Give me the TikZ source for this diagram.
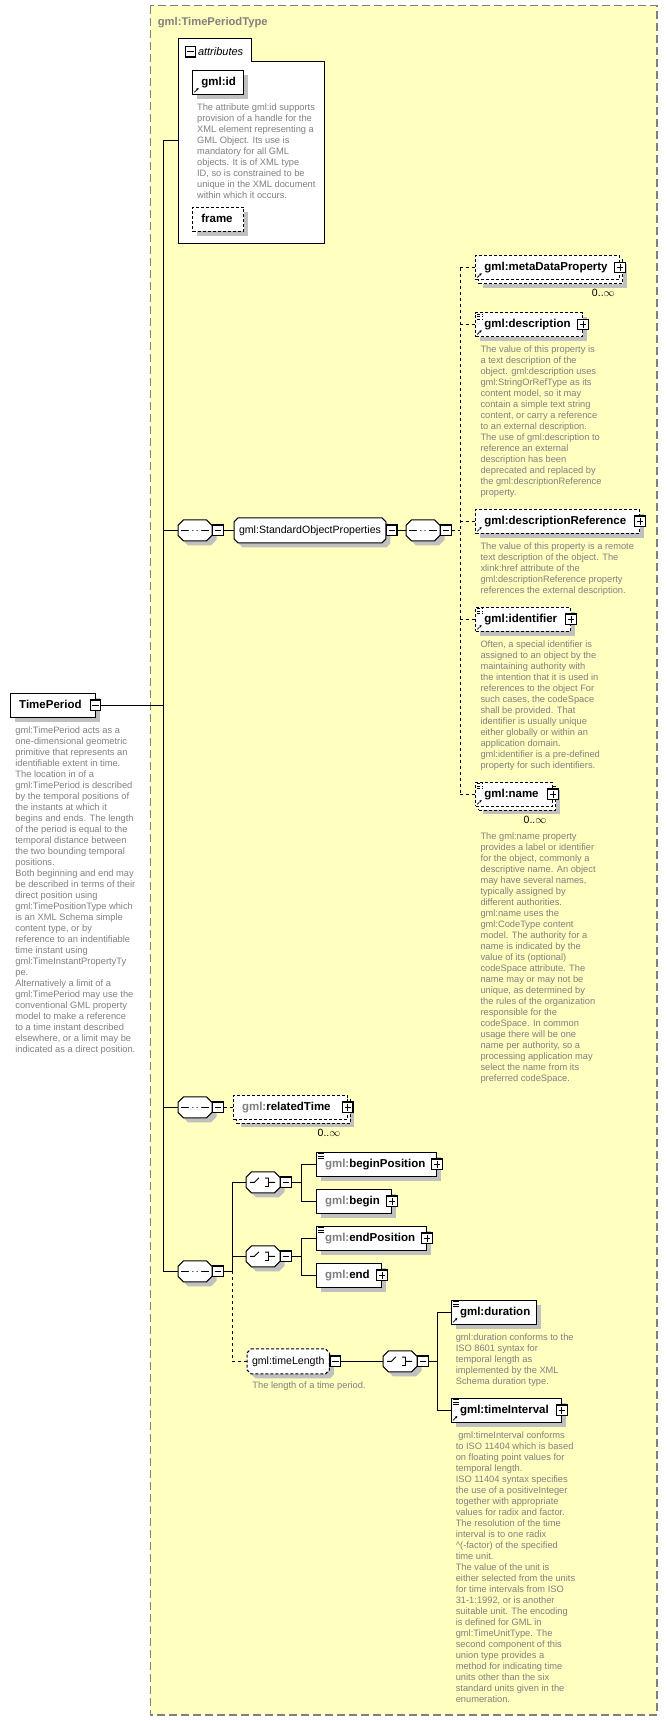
\documentclass[tikz,border=0pt]{standalone}
\usepackage{fontspec}
\setmainfont{Liberation Sans}
\usetikzlibrary{positioning,shadows,arrows.meta}

\hyphenpenalty=10000

\definecolor{typefill}{RGB}{255,255,192}
\definecolor{docgray}{RGB}{128,128,128}
\definecolor{shadegray}{RGB}{192,192,192}

% box with cut corners, for compositors and groups
\makeatletter
\def\octcut{5pt}
\pgfdeclareshape{octbox}{%
  \inheritsavedanchors[from=rectangle]%
  \inheritanchorborder[from=rectangle]%
  \inheritanchor[from=rectangle]{center}%
  \inheritanchor[from=rectangle]{north}%
  \inheritanchor[from=rectangle]{south}%
  \inheritanchor[from=rectangle]{east}%
  \inheritanchor[from=rectangle]{west}%
  \inheritanchor[from=rectangle]{north east}%
  \inheritanchor[from=rectangle]{north west}%
  \inheritanchor[from=rectangle]{south east}%
  \inheritanchor[from=rectangle]{south west}%
  \inheritanchor[from=rectangle]{base}%
  \inheritanchor[from=rectangle]{mid}%
  \backgroundpath{%
    \southwest\edef\oxa{\the\pgf@x}\edef\oya{\the\pgf@y}%
    \northeast\edef\oxb{\the\pgf@x}\edef\oyb{\the\pgf@y}%
    \pgfpathmoveto{\pgfpoint{\oxa+\octcut}{\oyb}}%
    \pgfpathlineto{\pgfpoint{\oxb-\octcut}{\oyb}}%
    \pgfpathlineto{\pgfpoint{\oxb}{\oyb-\octcut}}%
    \pgfpathlineto{\pgfpoint{\oxb}{\oya+\octcut}}%
    \pgfpathlineto{\pgfpoint{\oxb-\octcut}{\oya}}%
    \pgfpathlineto{\pgfpoint{\oxa+\octcut}{\oya}}%
    \pgfpathlineto{\pgfpoint{\oxa}{\oya+\octcut}}%
    \pgfpathlineto{\pgfpoint{\oxa}{\oyb-\octcut}}%
    \pgfpathclose}%
}
\makeatother

% small marks drawn inside the element boxes
\newcommand{\lineicon}{%
  \draw[line width=.8pt] ([shift={(1.5pt,-1.5pt)}]path picture bounding box.north west) -- ++(5.5pt,0pt)
    ([shift={(1.5pt,-4pt)}]path picture bounding box.north west) -- ++(5.5pt,0pt)
    ([shift={(1.5pt,-6.5pt)}]path picture bounding box.north west) -- ++(5.5pt,0pt);}
\newcommand{\reficon}{%
  \draw[line width=.8pt,-{Latex[length=2.6pt,width=2.6pt]}] ([shift={(1.5pt,2pt)}]path picture bounding box.south west) -- ++(4.5pt,4.5pt);}

\tikzset{
  cut size/.code={\def\octcut{#1}},
  typebox/.style={draw=docgray, fill=typefill, line width=1.3pt, dash pattern=on 8pt off 4pt},
  opt/.style={dash pattern=on 3pt off 2pt},
  optline/.style={dash pattern=on 3pt off 3pt},
  shade/.style={general shadow={shadow xshift=4.5pt, shadow yshift=-4.5pt, draw=none, fill=shadegray}},
  stack/.style={general shadow={shadow xshift=7pt, shadow yshift=-8pt, draw=none, fill=shadegray},
    general shadow={shadow xshift=3pt, shadow yshift=-4pt, draw=black, fill=white, opt}},
  elem/.style={rectangle, draw, fill=white, anchor=west, minimum height=24pt, inner xsep=8.5pt, inner ysep=0pt,
    text width=#1pt, align=left, font=\fontsize{11.5}{13}\selectfont\bfseries, text height=8.5pt, text depth=2.5pt},
  lines/.style={path picture={\lineicon}},
  ref/.style={path picture={\reficon}},
  lineref/.style={path picture={\lineicon\reficon}},
  grp/.style={octbox, cut size=4pt, draw, fill=white, anchor=west, minimum height=24pt,
    inner xsep=4.5pt, inner ysep=0pt, font=\fontsize{10.6}{12}\selectfont, text height=8pt, text depth=2.5pt},
  oct/.style={octbox, cut size=5.5pt, draw, fill=white, anchor=west,
    minimum width=33pt, minimum height=20pt, inner sep=0pt, shade},
  seq/.style={oct, path picture={
    \draw ([xshift=3pt]path picture bounding box.west) -- ([xshift=-3pt]path picture bounding box.east);
    \fill[shift={(path picture bounding box.center)}] (-6.1pt,-1.8pt) rectangle (-2.7pt,1.8pt)
      (-1.7pt,-1.8pt) rectangle (1.7pt,1.8pt) (2.7pt,-1.8pt) rectangle (6.1pt,1.8pt);}},
  choice/.style={oct, path picture={
    \draw[shift={(path picture bounding box.center)}, line width=.9pt] (-13pt,0pt) -- (-8.5pt,0pt) -- (-4pt,4.5pt)
      (2pt,4.2pt) -- (5.5pt,4.2pt) -- (5.5pt,-4.2pt) -- (2pt,-4.2pt) (5.5pt,0pt) -- (12pt,0pt);
    \fill[shift={(path picture bounding box.center)}] (-0.9pt,2.8pt) rectangle (1.9pt,5.6pt)
      (-0.9pt,-1.4pt) rectangle (1.9pt,1.4pt) (-0.9pt,-5.6pt) rectangle (1.9pt,-2.8pt);}},
  pm/.style={rectangle, draw, line width=1.2pt, fill=white, minimum size=10.5pt, inner sep=0pt},
  plus/.style={pm, path picture={\draw[line width=1pt] ([xshift=2pt]path picture bounding box.west) -- ([xshift=-2pt]path picture bounding box.east)
    ([yshift=-2pt]path picture bounding box.north) -- ([yshift=2pt]path picture bounding box.south);}},
  minus/.style={pm, path picture={\draw[line width=1pt] ([xshift=2pt]path picture bounding box.west) -- ([xshift=-2pt]path picture bounding box.east);}},
  doc/.style={anchor=north west, inner sep=0pt, align=left, text=docgray, font=\fontsize{9.3}{11}\selectfont},
  mult/.style={inner sep=0pt, font=\fontsize{10.5}{12}\selectfont},
  title/.style={anchor=north west, inner sep=0pt, text=docgray, font=\fontsize{11.2}{13}\selectfont\bfseries}
}

\begin{document}
\begin{tikzpicture}[x=1pt, y=-1pt, line width=1pt]
\def\xsq{178}
\def\xch{246}
\def\xel{475.3}
\def\xpos{316}

\useasboundingbox (0,0) rectangle (668,1721);
\draw[typebox] (150.2,5.7) rectangle (657,1715);
\node[title] (ttl) at (157.4,16.5) {gml:TimePeriodType};

% attributes
\node[anchor=north west, minimum width=145.1pt, minimum height=204pt, inner sep=0pt] (attr) at (178.3,38.3) {};
\draw[fill=white] (attr.south west) |- (attr.north west) -| ([shift={(72.7,23)}]attr.north west) -| (attr.south east) -- cycle;
\node[minus] (attrm) at (190.4,51.7) {};
\node[anchor=base west, inner sep=0pt, font=\fontsize{11}{13}\selectfont\itshape] (attrl) at (197.5,55) {attributes};
\node[elem=34.1, shade, ref] (gid) at (192.3,82.3) {gml:id};
\node[doc] (giddoc) at (196.6,103.3) {The attribute gml:id supports\\provision of a handle for the\\XML element representing a\\GML Object. Its use is\\mandatory for all GML\\objects. It is of XML type\\ID, so is constrained to be\\unique in the XML document\\within which it occurs.};
\node[elem=34.1, opt, shade] (frame) at (192.3,219.3) {frame};

% the element itself
\node[elem=67.3, shade] (tp) at (10.2,705.3) {TimePeriod};
\node[minus] (tpm) at (tp.east) {};
\node[doc] (tpdoc) at (14.9,726.7) {gml:TimePeriod acts as a\\one-dimensional geometric\\primitive that represents an\\identifiable extent in time.\\The location in of a\\gml:TimePeriod is described\\by the temporal positions of\\the instants at which it\\begins and ends. The length\\of the period is equal to the\\temporal distance between\\the two bounding temporal\\positions.\\Both beginning and end may\\be described in terms of their\\direct position using\\gml:TimePositionType which\\is an XML Schema simple\\content type, or by\\reference to an indentifiable\\time instant using\\gml:TimeInstantPropertyTy\\pe.\\Alternatively a limit of a\\gml:TimePeriod may use the\\conventional GML property\\model to make a reference\\to a time instant described\\elsewhere, or a limit may be\\indicated as a direct position.};

% standard object properties
\node[seq] (seq1) at (\xsq,530.3) {};
\node[minus, anchor=west] (seq1m) at (seq1.east) {};
\node[grp, shade] (sop) at (234,530.3) {gml:StandardObjectProperties};
\node[minus, anchor=west] (sopm) at (sop.east) {};
\node[seq] (seq2) at (406,530.3) {};
\node[minus, anchor=west] (seq2m) at (seq2.east) {};

\node[elem=126.7, opt, stack, ref] (meta) at (\xel,267.5) {gml:metaDataProperty};
\node[plus] (metap) at (meta.east) {};
\node[mult] (metan) at (603.3,292.7) {0..$\infty$};

\node[elem=89.7, opt, shade, lineref] (desc) at (\xel,324.5) {gml:description};
\node[plus] (descp) at (desc.east) {};
\node[doc] (descdoc) at (480,345.7) {The value of this property is\\a text description of the\\object. gml:description uses\\gml:StringOrRefType as its\\content model, so it may\\contain a simple text string\\content, or carry a reference\\to an external description.\\The use of gml:description to\\reference an external\\description has been\\deprecated and replaced by\\the gml:descriptionReference\\property.};

\node[elem=146.7, opt, shade, ref] (dref) at (\xel,521.3) {gml:descriptionReference};
\node[plus] (drefp) at (dref.east) {};
\node[doc] (drefdoc) at (480,542.3) {The value of this property is a remote\\text description of the object. The\\xlink:href attribute of the\\gml:descriptionReference property\\references the external description.};

\node[elem=77.7, opt, shade, lineref] (ident) at (\xel,619.3) {gml:identifier};
\node[plus] (identp) at (ident.east) {};
\node[doc] (identdoc) at (480,640) {Often, a special identifier is\\assigned to an object by the\\maintaining authority with\\the intention that it is used in\\references to the object For\\such cases, the codeSpace\\shall be provided. That\\identifier is usually unique\\either globally or within an\\application domain.\\gml:identifier is a pre-defined\\property for such identifiers.};

\node[elem=59.7, opt, stack, lineref] (name) at (\xel,794.3) {gml:name};
\node[plus] (namep) at (name.east) {};
\node[mult] (namen) at (535,820) {0..$\infty$};
\node[doc] (namedoc) at (480,832.3) {The gml:name property\\provides a label or identifier\\for the object, commonly a\\descriptive name. An object\\may have several names,\\typically assigned by\\different authorities.\\gml:name uses the\\gml:CodeType content\\model.  The authority for a\\name is indicated by the\\value of its (optional)\\codeSpace attribute.  The\\name may or may not be\\unique, as determined by\\the rules of the organization\\responsible for the\\codeSpace.  In common\\usage there will be one\\name per authority, so a\\processing application may\\select the name from its\\preferred codeSpace.};

% related time
\node[seq] (seq3) at (\xsq,1107.3) {};
\node[minus, anchor=west] (seq3m) at (seq3.east) {};
\node[elem=96.8, opt, stack] (rel) at (233,1107.3) {\textcolor{docgray}{gml:}relatedTime};
\node[plus] (relp) at (rel.east) {};
\node[mult] (reln) at (329,1133) {0..$\infty$};

% begin, end and length
\node[seq] (seq4) at (\xsq,1271.3) {};
\node[minus, anchor=west] (seq4m) at (seq4.east) {};

\node[choice] (ch1) at (\xch,1182.3) {};
\node[minus, anchor=west] (ch1m) at (ch1.east) {};
\node[elem=103, shade, lines] (bp) at (\xpos,1164.3) {\textcolor{docgray}{gml:}beginPosition};
\node[plus] (bpp) at (bp.east) {};
\node[elem=58, shade] (bg) at (\xpos,1201.3) {\textcolor{docgray}{gml:}begin};
\node[plus] (bgp) at (bg.east) {};

\node[choice] (ch2) at (\xch,1256.3) {};
\node[minus, anchor=west] (ch2m) at (ch2.east) {};
\node[elem=93, shade, lines] (ep) at (\xpos,1238.3) {\textcolor{docgray}{gml:}endPosition};
\node[plus] (epp) at (ep.east) {};
\node[elem=48, shade] (en) at (\xpos,1275.3) {\textcolor{docgray}{gml:}end};
\node[plus] (enp) at (en.east) {};

\node[grp, opt, shade] (tl) at (247,1361.3) {gml:timeLength};
\node[minus, anchor=west] (tlm) at (tl.east) {};
\node[doc] (tldoc) at (251.9,1381.7) {The length of a time period.};
\node[choice] (ch3) at (383,1361.3) {};
\node[minus, anchor=west] (ch3m) at (ch3.east) {};

\node[elem=67.7, shade, lineref] (dur) at (451,1312.3) {gml:duration};
\node[doc] (durdoc) at (455.3,1333.3) {gml:duration conforms to the\\ISO 8601 syntax for\\temporal length as\\implemented by the XML\\Schema duration type.};
\node[elem=92.9, shade, lineref] (ti) at (451,1410.3) {gml:timeInterval};
\node[plus] (tip) at (ti.east) {};
\node[doc] (tidoc) at (455.3,1431) {\hspace*{2.5pt}gml:timeInterval conforms\\to ISO 11404 which is based\\on floating point values for\\temporal length.\\ISO 11404 syntax specifies\\the use of a positiveInteger\\together with appropriate\\values for radix and factor.\\The resolution of the time\\interval is to one radix\\\textasciicircum(-factor) of the specified\\time unit.\\The value of the unit is\\either selected from the units\\for time intervals from ISO\\31-1:1992, or is another\\suitable unit.  The encoding\\is defined for GML in\\gml:TimeUnitType. The\\second component of this\\union type provides a\\method for indicating time\\units other than the six\\standard units given in the\\enumeration.};

% connectors
\coordinate (spine) at (163.4,0);
\coordinate (rail) at (460,0);
\coordinate (fork) at (232.3,0);
\coordinate (forka) at (301.3,0);
\coordinate (forkb) at (437,0);

\draw (attr.west) -- (attr.west -| spine) |- (seq4.west);
\draw (tpm.east) -- (tpm.east -| spine);
\draw (seq1.west -| spine) -- (seq1.west);
\draw (seq1m.east) -- (sop.west);
\draw (sopm.east) -- (seq2.west);
\draw[optline] (seq2m.east) -- (seq2m.east -| rail);
\draw[optline] (meta.west -| rail) -- (name.west -| rail);
\draw[optline] (meta.west -| rail) -- (meta.west);
\draw[optline] (desc.west -| rail) -- (desc.west);
\draw[optline] (dref.west -| rail) -- (dref.west);
\draw[optline] (ident.west -| rail) -- (ident.west);
\draw[optline] (name.west -| rail) -- (name.west);

\draw (seq3.west -| spine) -- (seq3.west);
\draw[optline] (seq3m.east) -- (rel.west);

\draw (seq4m.east) -- (seq4m.east -| fork);
\draw (ch1.west) -| (seq4m.east -| fork);
\draw (ch2.west -| fork) -- (ch2.west);
\draw[optline] (seq4m.east -| fork) |- (tl.west);
\draw (ch1m.east) -- (ch1m.east -| forka);
\draw (bp.west) -| (bg.west -| forka) -- (bg.west);
\draw (ch2m.east) -- (ch2m.east -| forka);
\draw (ep.west) -| (en.west -| forka) -- (en.west);
\draw (tlm.east) -- (ch3.west);
\draw (ch3m.east) -- (ch3m.east -| forkb);
\draw (dur.west) -| (ti.west -| forkb) -- (ti.west);
\end{tikzpicture}
\end{document}
